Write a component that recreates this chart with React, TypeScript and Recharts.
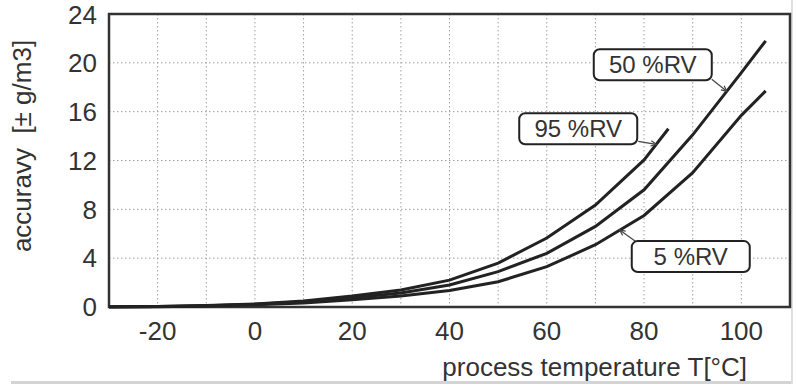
import { LineChart, Line, XAxis, YAxis, CartesianGrid, ReferenceArea, ReferenceDot, Label } from "recharts";

const temps = [-30, -20, -10, 0, 10, 20, 30, 40, 50, 60, 70, 80, 90, 100, 105];
const temps95 = [-30, -20, -10, 0, 10, 20, 30, 40, 50, 60, 70, 80, 85];
const acc95 = [0.02, 0.05, 0.12, 0.25, 0.5, 0.9, 1.4, 2.2, 3.6, 5.65, 8.35, 12.05, 14.6];
const acc50 = [0.02, 0.04, 0.1, 0.22, 0.42, 0.75, 1.15, 1.8, 2.9, 4.4, 6.6, 9.6, 14.1, 19.2, 21.8];
const acc5 = [0.01, 0.03, 0.08, 0.18, 0.33, 0.6, 0.9, 1.35, 2.07, 3.3, 5.1, 7.5, 11.0, 15.7, 17.7];

const xTicks = [-20, -10, 0, 10, 20, 30, 40, 50, 60, 70, 80, 90, 100];
const yTicks = [0, 4, 8, 12, 16, 20, 24];

const data95 = temps95.map((t, i) => ({ t, v: acc95[i] }));
const data50 = temps.map((t, i) => ({ t, v: acc50[i] }));
const data5 = temps.map((t, i) => ({ t, v: acc5[i] }));

// value of a series at x, used to pin callout arrows on the curve
function at(xs: number[], ys: number[], x: number) {
  for (let i = 1; i < xs.length; i++) {
    if (x <= xs[i]) {
      const k = (x - xs[i - 1]) / (xs[i] - xs[i - 1]);
      return ys[i - 1] + k * (ys[i] - ys[i - 1]);
    }
  }
  return ys[ys.length - 1];
}

const FONT = "'Liberation Sans', Arial, sans-serif";
const INK = "#222";

function Callout(props: any) {
  const { cx, cy, text, bx, by, lx, ly } = props;
  const w = 118;
  const h = 31;
  const x0 = cx + bx;
  const y0 = cy + by;
  const sx = cx + lx;
  const sy = cy + ly;
  const ang = Math.atan2(cy - sy, cx - sx);
  const a1 = ang + Math.PI - 0.45;
  const a2 = ang + Math.PI + 0.45;
  return (
    <g>
      <line x1={sx} y1={sy} x2={cx} y2={cy} stroke="#444" strokeWidth={1.2} />
      <polyline
        points={`${cx + 6 * Math.cos(a1)},${cy + 6 * Math.sin(a1)} ${cx},${cy} ${cx + 6 * Math.cos(a2)},${cy + 6 * Math.sin(a2)}`}
        fill="none"
        stroke="#444"
        strokeWidth={1.2}
      />
      <rect x={x0} y={y0} width={w} height={h} rx={6} ry={6} fill="#fff" stroke={INK} strokeWidth={2} />
      <text
        x={x0 + w / 2}
        y={y0 + h / 2 + 8.5}
        textAnchor="middle"
        fontFamily={FONT}
        fontSize={24}
        fill="#333"
      >
        {text}
      </text>
    </g>
  );
}

export default function App() {
  const tickStyle = { fill: "#333", fontSize: 26, fontFamily: FONT };
  return (
    <div style={{ position: "relative", width: 796, height: 385, background: "#fff" }}>
      <style>{"body{margin:0}"}</style>
      <div style={{ position: "absolute", left: 11, top: 381, width: 781, height: 3, background: "#d4d4d4" }} />
      <div style={{ position: "absolute", left: 791, top: 0, width: 2, height: 384, background: "#dedede" }} />
      <LineChart width={796} height={385} margin={{ top: 14, right: 6, bottom: 0, left: 0 }}>
        <CartesianGrid stroke="#a0a0a0" strokeDasharray="1.5 2.5" strokeWidth={1} />
        <XAxis
          dataKey="t"
          type="number"
          domain={[-30, 110]}
          ticks={xTicks}
          tickFormatter={(v: number) => (v % 20 === 0 ? String(v) : "")}
          axisLine={false}
          tickLine={false}
          tickSize={0}
          tickMargin={15}
          height={78}
          tick={tickStyle}
          allowDataOverflow
        >
          <Label
            content={() => (
              <text x={747} y={376} textAnchor="end" fontFamily={FONT} fontSize={26} fill="#333">
                process temperature T[°C]
              </text>
            )}
          />
        </XAxis>
        <YAxis
          type="number"
          domain={[0, 24]}
          ticks={yTicks}
          axisLine={false}
          tickLine={false}
          tickSize={0}
          tickMargin={12}
          width={109}
          tick={tickStyle}
        >
          <Label
            content={() => (
              <text
                x={31}
                y={146}
                transform="rotate(-90 31 146)"
                textAnchor="middle"
                fontFamily={FONT}
                fontSize={26}
                fill="#333"
                style={{ whiteSpace: "pre" }}
              >
                {"accuravy  [± g/m3]"}
              </text>
            )}
          />
        </YAxis>
        <ReferenceArea x1={-30} x2={110} y1={0} y2={24} fill="none" stroke="#333" strokeWidth={2.5} />
        <Line data={data95} dataKey="v" type="linear" stroke={INK} strokeWidth={3} dot={false} isAnimationActive={false} />
        <Line data={data50} dataKey="v" type="linear" stroke={INK} strokeWidth={3} dot={false} isAnimationActive={false} />
        <Line data={data5} dataKey="v" type="linear" stroke={INK} strokeWidth={3} dot={false} isAnimationActive={false} />
        <ReferenceDot
          x={97}
          y={at(temps, acc50, 97)}
          shape={(p: any) => <Callout {...p} text="50 %RV" bx={-133} by={-42} lx={-15} ly={-12} />}
        />
        <ReferenceDot
          x={82.5}
          y={at(temps95, acc95, 82.5)}
          shape={(p: any) => <Callout {...p} text="95 %RV" bx={-137} by={-31} lx={-18} ly={-3} />}
        />
        <ReferenceDot
          x={75}
          y={at(temps, acc5, 75)}
          shape={(p: any) => <Callout {...p} text="5 %RV" bx={12} by={11} lx={18} ly={13} />}
        />
      </LineChart>
    </div>
  );
}
